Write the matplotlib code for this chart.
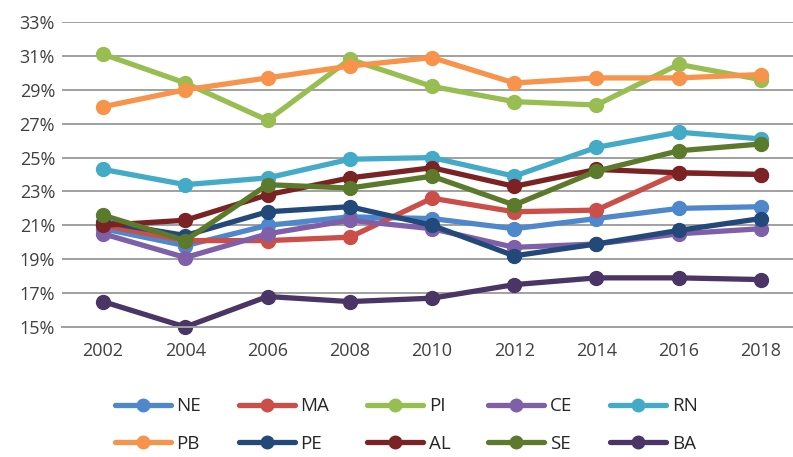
import matplotlib
matplotlib.use('Agg')
import matplotlib.pyplot as plt
from matplotlib.ticker import FuncFormatter

plt.rcParams['font.family'] = ['Open Sans', 'DejaVu Sans']

years = ['2002', '2004', '2006', '2008', '2010', '2012', '2014', '2016', '2018']

NE = [20.8, 19.8, 21.0, 21.5, 21.4, 20.8, 21.4, 22.0, 22.1]
MA = [21.0, 20.1, 20.1, 20.3, 22.6, 21.8, 21.9, 24.1, 24.0]
PI = [31.1, 29.4, 27.2, 30.8, 29.2, 28.3, 28.1, 30.5, 29.6]
CE = [20.5, 19.1, 20.5, 21.3, 20.8, 19.7, 19.9, 20.5, 20.8]
RN = [24.3, 23.4, 23.8, 24.9, 25.0, 23.9, 25.6, 26.5, 26.1]
PB = [28.0, 29.0, 29.7, 30.4, 30.9, 29.4, 29.7, 29.7, 29.9]
PE = [21.2, 20.4, 21.8, 22.1, 21.0, 19.2, 19.9, 20.7, 21.4]
AL = [21.0, 21.3, 22.8, 23.8, 24.4, 23.3, 24.3, 24.1, 24.0]
SE = [21.6, 20.1, 23.4, 23.2, 23.9, 22.2, 24.2, 25.4, 25.8]
BA = [16.5, 15.0, 16.8, 16.5, 16.7, 17.5, 17.9, 17.9, 17.8]

names = ['NE', 'MA', 'PI', 'CE', 'RN', 'PB', 'PE', 'AL', 'SE', 'BA']
series = [NE, MA, PI, CE, RN, PB, PE, AL, SE, BA]
colors = ['#4F87CC', '#CC4E48', '#98BE52', '#7F60A8', '#43AAC8',
          '#F7934A', '#22497A', '#7A2224', '#5B7A2B', '#4A3566']

fig = plt.figure(figsize=(7.93, 4.57), dpi=100)
ax = fig.add_axes([62/793, 1-327/457, 740/793, 305/457])

x = range(len(years))
handles = []
for name, vals, c in zip(names, series, colors):
    h, = ax.plot(x, vals, color=c, lw=3.8, marker='o', ms=10, label=name,
                 solid_capstyle='round', clip_on=False)
    handles.append(h)

ax.set_xlim(-0.5, 8.5)
ax.set_ylim(15, 33)
ax.set_yticks(range(15, 34, 2))
ax.yaxis.set_major_formatter(FuncFormatter(lambda v, p: '%d%%' % v))
ax.set_xticks(list(x))
ax.set_xticklabels(years)
ax.grid(axis='y', color='#A0A0A0', lw=1.4)
ax.set_axisbelow(True)
for s in ['top', 'right', 'left']:
    ax.spines[s].set_visible(False)
ax.spines['bottom'].set_color('#A0A0A0')
ax.spines['bottom'].set_linewidth(1.4)
ax.tick_params(length=0, labelsize=13, colors='#404040', pad=5)
ax.tick_params(axis='x', pad=11)

# legend filled row by row
order = [0, 5, 1, 6, 2, 7, 3, 8, 4, 9]
leg = fig.legend([handles[i] for i in order], [names[i] for i in order],
                 ncol=5, loc='center left', bbox_to_anchor=(107/793, 1-425/457),
                 borderaxespad=0, frameon=False, fontsize=13.5,
                 handlelength=3.0, columnspacing=2.0, labelspacing=1.05,
                 handletextpad=0.3, markerscale=0.9)
for t in leg.get_texts():
    t.set_color('#262626')

fig.savefig('out.png', dpi=100)
